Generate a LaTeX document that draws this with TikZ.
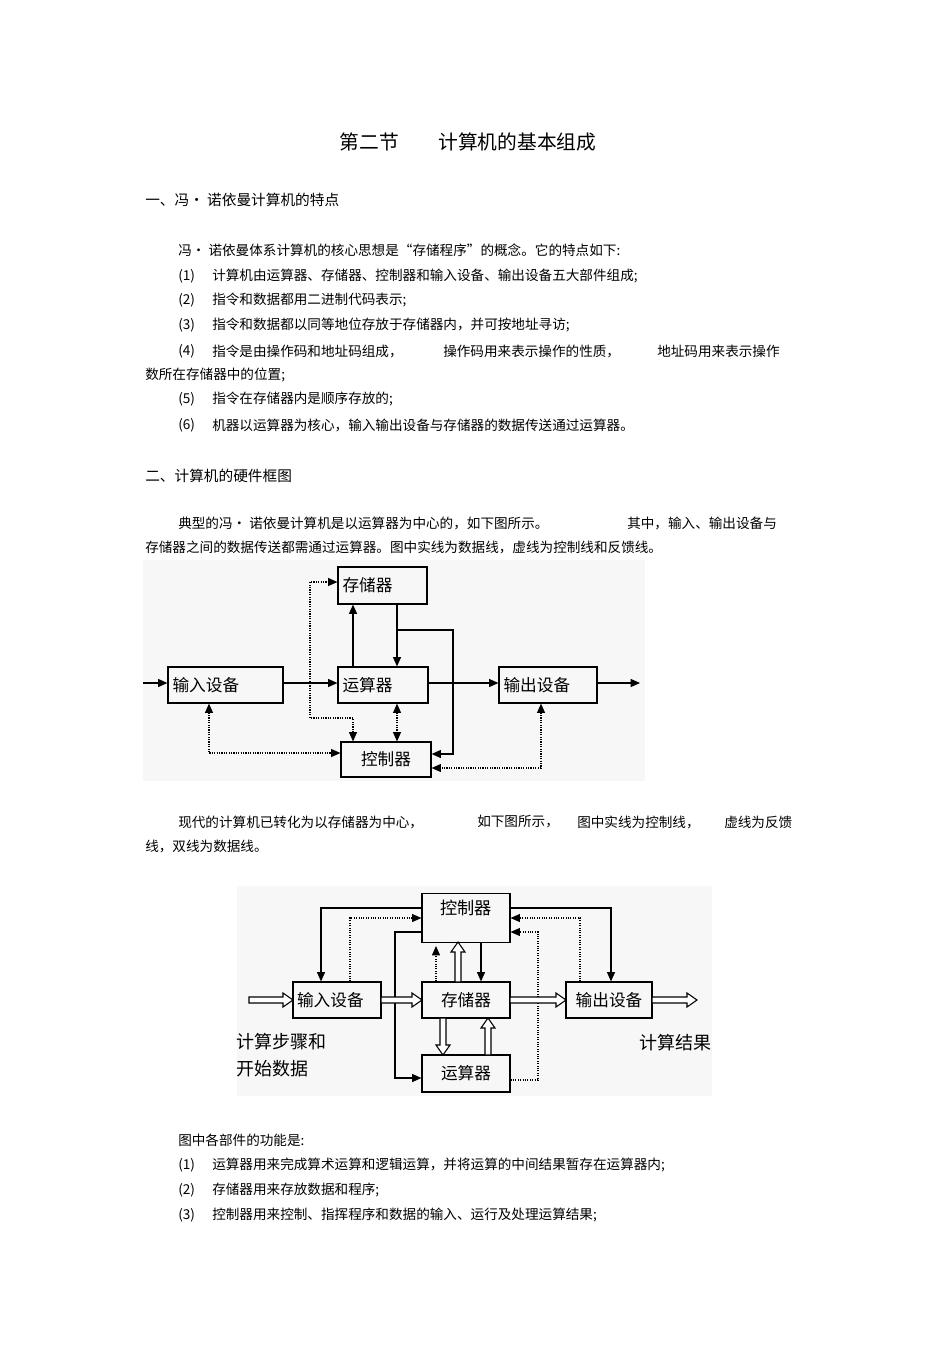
\documentclass[tikz,border=0pt]{standalone}
\usepackage{fontspec}
\setmainfont{Noto Sans CJK SC}
\usetikzlibrary{arrows.meta,calc}
\begin{document}
\begin{tikzpicture}[x=0.75pt,y=-0.75pt,
  body/.style={anchor=west,inner sep=0pt,font=\fontsize{10.2pt}{12pt}\selectfont},
  head/.style={anchor=west,inner sep=0pt,font=\fontsize{11pt}{13pt}\selectfont},
  box/.style={draw,line width=0.9pt,inner sep=0pt,font=\fontsize{12.5pt}{14pt}\selectfont},
  sl/.style={line width=0.9pt,-{Triangle[length=7pt,width=6pt]}},
  dl/.style={line width=0.8pt,densely dotted,{Triangle[length=7pt,width=6pt]}-{Triangle[length=7pt,width=6pt]}},
  dlr/.style={line width=0.8pt,densely dotted,-{Triangle[length=7pt,width=6pt]}},
  harrow/.pic={\draw[line width=0.8pt,fill=white] (0,-3) -- ({#1-10},-3) -- ({#1-10},-7) -- (#1,0) -- ({#1-10},7) -- ({#1-10},3) -- (0,3) -- cycle;}
]
\useasboundingbox (0,0) rectangle (950,1345);
\fill[white] (0,0) rectangle (950,1345);

% title and text
\node[inner sep=0pt,font=\fontsize{14.8pt}{17pt}\selectfont] (title) at (468,142) {第二节\hspace{2em}计算机的基本组成};
\node[head] (h1) at (145,200) {一、冯· 诺依曼计算机的特点};
\node[body] (p0) at (178,250) {冯· 诺依曼体系计算机的核心思想是“存储程序”的概念。它的特点如下:};
\node[body] (n1) at (178,276) {(1)};
\node[body] (l1) at (212,276) {计算机由运算器、存储器、控制器和输入设备、输出设备五大部件组成;};
\node[body] (n2) at (178,300) {(2)};
\node[body] (l2) at (212,300) {指令和数据都用二进制代码表示;};
\node[body] (n3) at (178,325) {(3)};
\node[body] (l3) at (212,325) {指令和数据都以同等地位存放于存储器内，并可按地址寻访;};
\node[body] (n4) at (178,351) {(4)};
\node[body] (l4a) at (212,351) {指令是由操作码和地址码组成，};
\node[body] (l4b) at (443,351) {操作码用来表示操作的性质，};
\node[body] (l4c) at (657,351) {地址码用来表示操作};
\node[body] (l4d) at (145,375) {数所在存储器中的位置;};
\node[body] (n5) at (178,399) {(5)};
\node[body] (l5) at (212,399) {指令在存储器内是顺序存放的;};
\node[body] (n6) at (178,425) {(6)};
\node[body] (l6) at (212,425) {机器以运算器为核心，输入输出设备与存储器的数据传送通过运算器。};
\node[head] (h2) at (145,476) {二、计算机的硬件框图};
\node[body] (q1a) at (178,523) {典型的冯· 诺依曼计算机是以运算器为中心的，如下图所示。};
\node[body] (q1b) at (627,523) {其中，输入、输出设备与};
\node[body] (q1c) at (145,547) {存储器之间的数据传送都需通过运算器。图中实线为数据线，虚线为控制线和反馈线。};
\node[body] (r1a) at (178,822) {现代的计算机已转化为以存储器为中心，};
\node[body] (r1b) at (477,822) {如下图所示，};
\node[body] (r1c) at (577,822) {图中实线为控制线，};
\node[body] (r1d) at (724,822) {虚线为反馈};
\node[body] (r1e) at (145,846) {线，双线为数据线。};
\node[body] (s0) at (178,1140) {图中各部件的功能是:};
\node[body] (m1) at (178,1165) {(1)};
\node[body] (s1) at (212,1165) {运算器用来完成算术运算和逻辑运算，并将运算的中间结果暂存在运算器内;};
\node[body] (m2) at (178,1190) {(2)};
\node[body] (s2) at (212,1190) {存储器用来存放数据和程序;};
\node[body] (m3) at (178,1215) {(3)};
\node[body] (s3) at (212,1215) {控制器用来控制、指挥程序和数据的输入、运行及处理运算结果;};

% ---------- diagram 1 ----------
\fill[black!3] (143,560) rectangle (645,781);
\node[box,minimum width=89*0.75pt,minimum height=37*0.75pt,text width=80*0.75pt,align=left] (mem) at (382.5,585.5) {存储器};
\node[box,minimum width=115*0.75pt,minimum height=36*0.75pt,text width=106*0.75pt,align=left] (in1) at (225.5,685) {输入设备};
\node[box,minimum width=90*0.75pt,minimum height=36*0.75pt,text width=81*0.75pt,align=left] (alu) at (383,685) {运算器};
\node[box,minimum width=98*0.75pt,minimum height=36*0.75pt,text width=89*0.75pt,align=left] (out1) at (548,685) {输出设备};
\node[box,minimum width=90*0.75pt,minimum height=35*0.75pt] (ctl) at (386,759.5) {控制器};
\coordinate (src1) at (143,683);
\coordinate (dst1) at (640,683);
\draw[sl] (src1) -- (in1.west |- src1);
\draw[sl] (in1.east |- src1) -- (alu.west |- src1);
\draw[sl] (alu.east |- src1) -- (out1.west |- src1);
\draw[sl] (out1.east |- src1) -- (dst1);
\draw[sl] (alu.north -| 353,0) -- (mem.south -| 353,0);
\draw[sl] (mem.south -| 397,0) -- (alu.north -| 397,0);
\draw[sl] (397,630) -- (453,630) -- (453,754) -- (ctl.east |- 0,754);
\draw[dl] (ctl.north -| 353,0) -- (353,718) -- (310,718) -- (310,582) -- (mem.west |- 0,582);
\draw[dl] (alu.south -| 397,0) -- (ctl.north -| 397,0);
\draw[dl] (in1.south -| 209,0) -- (209,753) -- (ctl.west |- 0,753);
\draw[dl] (out1.south -| 541,0) -- (541,768) -- (ctl.east |- 0,768);

% ---------- diagram 2 ----------
\fill[black!3] (237,886) rectangle (712,1096);
\node[box,minimum width=88*0.75pt,minimum height=49*0.75pt,anchor=north] (ctl2) at (466,893) {};
\node[inner sep=0pt,font=\fontsize{12.9pt}{14pt}\selectfont] (ctlt) at (466,908) {控制器};
\node[box,minimum width=88*0.75pt,minimum height=36*0.75pt,text width=80*0.75pt,align=left] (in2) at (337,1000) {输入设备};
\node[box,minimum width=88*0.75pt,minimum height=36*0.75pt] (mem2) at (466,1000) {存储器};
\node[box,minimum width=86*0.75pt,minimum height=36*0.75pt] (out2) at (609,1000) {输出设备};
\node[box,minimum width=88*0.75pt,minimum height=37*0.75pt] (alu2) at (466,1073.5) {运算器};
\node[anchor=west,inner sep=0pt,font=\fontsize{13.5pt}{16pt}\selectfont,align=left] (lab1) at (236,1055) {计算步骤和\\[4pt]开始数据};
\node[anchor=west,inner sep=0pt,font=\fontsize{13.5pt}{16pt}\selectfont] (lab2) at (639,1043) {计算结果};
\draw[sl] (ctl2.west |- 0,908) -- (321,908) -- (in2.north -| 321,0);
\draw[sl] (ctl2.east |- 0,908) -- (611,908) -- (out2.north -| 611,0);
\draw[dlr] (in2.north -| 350,0) -- (350,918) -- (ctl2.west |- 0,918);
\draw[dlr] (out2.north -| 580,0) -- (580,918) -- (ctl2.east |- 0,918);
\draw[sl] (ctl2.west |- 0,932) -- (395,932) -- (395,1078) -- (alu2.west |- 0,1078);
\draw[dlr] (alu2.east |- 0,1080) -- (538,1080) -- (538,932) -- (ctl2.east |- 0,932);
\draw[dlr] (mem2.north -| 436,0) -- (436,946);
\draw[sl] (ctl2.south -| 481,0) -- (mem2.north -| 481,0);
\pic at (249,1000) {harrow=44};
\pic at (381,1000) {harrow=41};
\pic at (510,1000) {harrow=56};
\pic at (652,1000) {harrow=45};
\pic[rotate=90] at (458,982) {harrow=40};
\pic[rotate=-90] at (443,1018) {harrow=37};
\pic[rotate=90] at (488,1055) {harrow=37};
\end{tikzpicture}
\end{document}
